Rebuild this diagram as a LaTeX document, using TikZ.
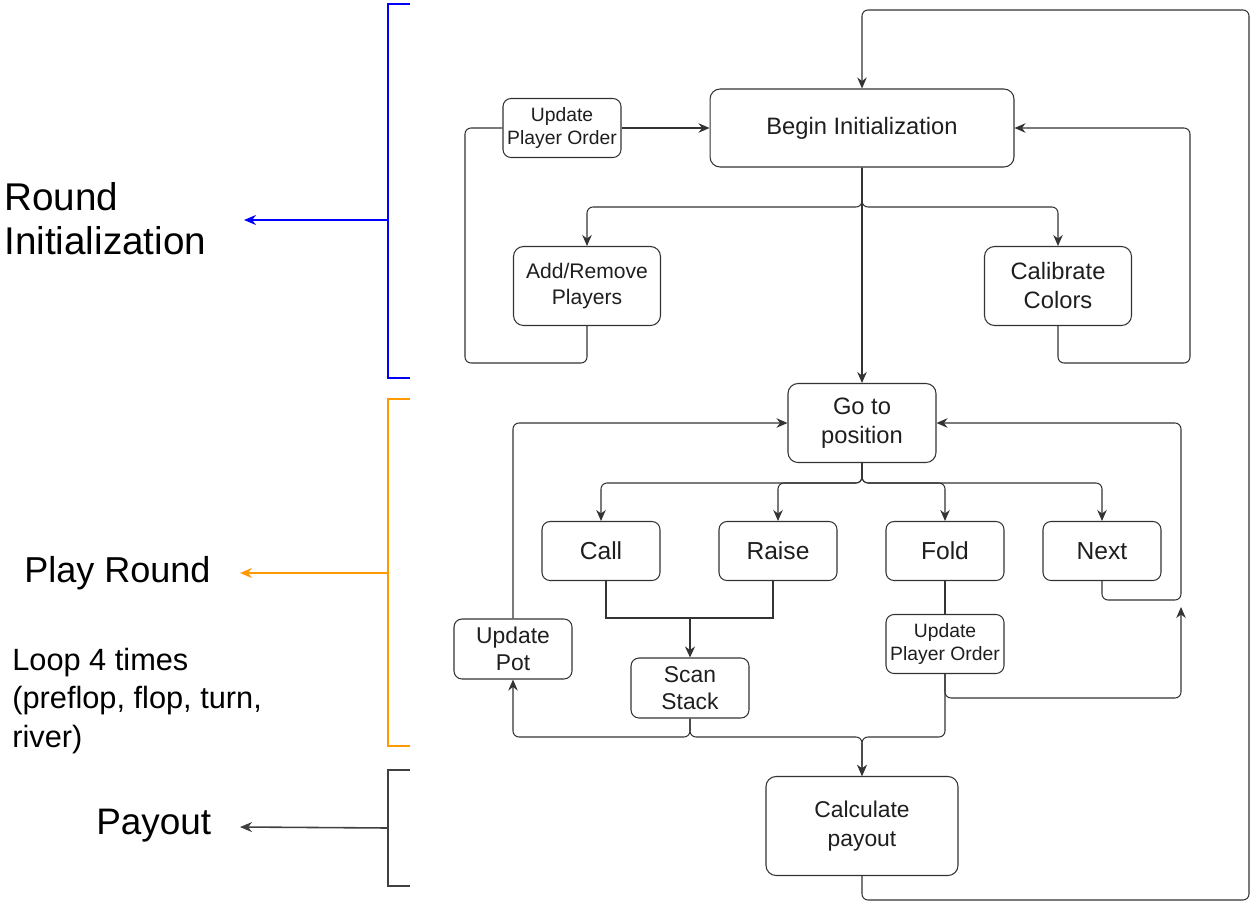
\documentclass[tikz,border=0pt]{standalone}
\usepackage{fontspec}
\setmainfont{Liberation Sans}
\usetikzlibrary{arrows.meta}

\definecolor{linegray}{HTML}{333333}
\definecolor{textgray}{HTML}{1E1E1E}
\definecolor{braceblue}{HTML}{0000FF}
\definecolor{braceorange}{HTML}{FF9900}
\definecolor{bracegray}{HTML}{404040}

\tikzstyle{block} = [rectangle, draw=linegray, line width=0.6pt, rounded corners=2mm,
    align=center, text=textgray, inner sep=0pt, font=\fontsize{13.5}{16.5}\selectfont]
\tikzstyle{small} = [block, rounded corners=1.6mm, minimum width=2.36cm, minimum height=1.18cm]
\tikzstyle{line} = [draw=linegray, line width=0.6pt, rounded corners=1.2mm]
\tikzstyle{arrow} = [line, -{Stealth[length=2.2mm,width=1.9mm]}]
\tikzstyle{brace} = [line width=0.9pt]
\tikzstyle{label} = [anchor=west, align=left, text=black, inner sep=0pt]

\begin{document}
\begin{tikzpicture}[x=0.02cm, y=-0.02cm]
    \useasboundingbox (0,0) rectangle (1255,903);

    % Place nodes
    \node [block, minimum width=6.08cm, minimum height=1.56cm] (begin) at (862,128) {Begin Initialization};
    \node [small, font=\fontsize{11}{13}\selectfont] (order1) at (562,128) {Update\\Player Order};
    \node [block, minimum width=2.94cm, minimum height=1.58cm, font=\fontsize{12}{14.5}\selectfont] (players) at (587,286) {Add/Remove\\Players};
    \node [block, minimum width=2.94cm, minimum height=1.58cm] (colors) at (1058,286) {Calibrate\\Colors};
    \node [block, minimum width=2.96cm, minimum height=1.58cm] (goto) at (862,423) {Go to\\position};
    \node [small, font=\fontsize{14}{16}\selectfont] (call) at (601,551) {Call};
    \node [small, font=\fontsize{14}{16}\selectfont] (raise) at (778,551) {Raise};
    \node [small, font=\fontsize{14}{16}\selectfont] (fold) at (945,551) {Fold};
    \node [small, font=\fontsize{14}{16}\selectfont] (next) at (1102,551) {Next};
    \node [small, minimum height=1.2cm, font=\fontsize{13}{15.5}\selectfont] (pot) at (513,649) {Update\\Pot};
    \node [small, minimum height=1.2cm, font=\fontsize{13}{15.5}\selectfont] (scan) at (690,688) {Scan\\Stack};
    \node [small, font=\fontsize{11}{13}\selectfont] (order2) at (945,644) {Update\\Player Order};
    \node [block, minimum width=3.84cm, minimum height=1.98cm, font=\fontsize{13}{16.5}\selectfont] (payout) at (862,826) {Calculate\\payout};

    % Draw edges
    \draw [arrow] (payout.south) -- (862,900) -| (1249,10) -| (begin.north);
    \draw [line] (players.south) -- (587,363) -| (465,128) -- (order1.west);
    \draw [arrow] (order1.east) -- (begin.west);
    \draw [arrow] (begin.south) -- (862,207) -| (players.north);
    \draw [arrow] (begin.south) -- (862,207) -| (colors.north);
    \draw [arrow] (begin.south) -- (goto.north);
    \draw [arrow] (colors.south) -- (1058,363) -| (1190,128) -- (begin.east);

    \draw [arrow] (goto.south) -- (862,483) -| (call.north);
    \draw [arrow] (goto.south) -- (862,483) -| (raise.north);
    \draw [arrow] (goto.south) -- (862,483) -| (fold.north);
    \draw [arrow] (goto.south) -- (862,483) -| (next.north);
    \draw [arrow] (next.south) -- (1102,600) -| (1181,423) -- (goto.east);
    \draw [line] (fold.south) -- (order2.north);
    \draw [arrow] (order2.south) -- (945,698) -| (1181,607);

    \draw [line, line width=1.1pt, rounded corners=0pt] (606,581) -- (606,618) -- (773,618) -- (773,581);
    \draw [line, line width=1.1pt, -{Stealth[length=2.2mm,width=2mm]}] (690,618) -- (scan.north);
    \draw [arrow] (scan.south) -- (690,737) -| (pot.south);
    \draw [arrow] (scan.south) -- (690,737) -| (payout.north);
    \draw [arrow] (order2.south) -- (945,737) -| (payout.north);
    \draw [arrow] (pot.north) |- (goto.west);

    % Phase brackets
    \node [label, font=\fontsize{22}{25}\selectfont] (init) at (4,219) {Round\\Initialization};
    \node [label, font=\fontsize{20.5}{25}\selectfont] (play) at (24,573) {Play Round};
    \node [label, font=\fontsize{17.5}{22}\selectfont] (loop) at (12,701) {Loop 4 times\\(preflop, flop, turn,\\river)};
    \node [label, font=\fontsize{21}{25}\selectfont] (pay) at (96,826) {Payout};

    \coordinate (initend) at (244,220);
    \coordinate (playend) at (240,573);
    \coordinate (payend) at (240,827);

    \draw [brace, braceblue] (410,4) -- (388,4) -- (388,378) -- (410,378);
    \draw [brace, braceblue, -{Stealth[length=2.4mm,width=2mm]}] (388,220) -- (initend);
    \draw [brace, braceorange] (410,399) -- (388,399) -- (388,746) -- (410,746);
    \draw [brace, braceorange, -{Stealth[length=2.4mm,width=2mm]}] (388,573) -- (playend);
    \draw [brace, bracegray] (410,770) -- (388,770) -- (388,886) -- (410,886);
    \draw [brace, bracegray, -{Stealth[length=2.4mm,width=2mm]}] (388,828) -- (payend);

\end{tikzpicture}
\end{document}
